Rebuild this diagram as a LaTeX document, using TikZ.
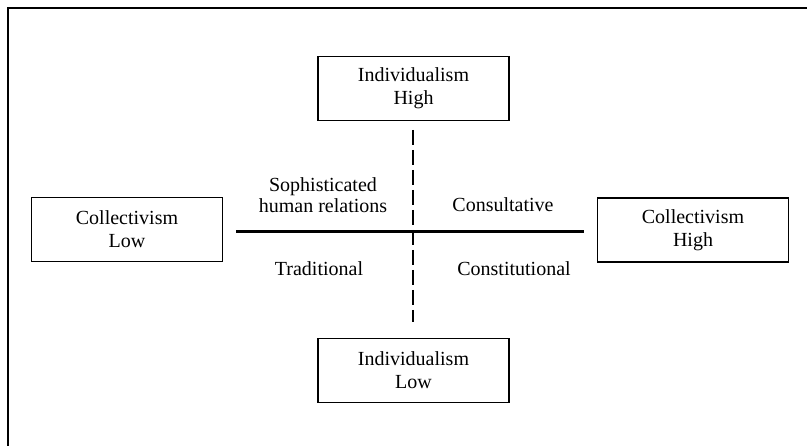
\documentclass[tikz,border=0pt]{standalone}
\usepackage{fontspec}
\setmainfont{Liberation Serif}
\begin{document}
\begin{tikzpicture}[x=1pt,y=-1pt,
  dimbox/.style={draw, line width=1.5pt, minimum width=191pt, minimum height=64pt,
    align=center, inner sep=0pt, font=\fontsize{20}{23}\selectfont},
  quadlabel/.style={align=center, inner sep=0pt, font=\fontsize{20}{21}\selectfont},
  frameline/.style={line width=1.5pt},
  axis/.style={line width=3pt},
  splitaxis/.style={line width=1.9pt, dash pattern=on 15pt off 5pt}]
  \useasboundingbox (0,0) rectangle (807,446);

  % open frame: top and left edges only
  \draw[frameline] (807,8) -- (8,8) -- (8,446);

  % dimension boxes
  \node[dimbox] (indhigh) at (413.5,88.5) {Individualism\\High};
  \node[dimbox] (indlow)  at (413.5,370.5) {Individualism\\Low};
  \node[dimbox] (collow)  at (127,229.5) {Collectivism\\Low};
  \node[dimbox] (colhigh) at (693,230) {Collectivism\\High};

  % axes
  \coordinate (hl) at (236,232);
  \coordinate (hr) at (584,232);
  \coordinate (vt) at (413,130);
  \coordinate (vb) at (413,322);
  \draw[axis] (hl) -- (hr);
  \draw[splitaxis] (vt) -- (vb);

  % quadrant labels
  \node[quadlabel] (soph)  at (323,195) {Sophisticated\\human relations};
  \node[quadlabel] (cons)  at (503,205) {Consultative};
  \node[quadlabel] (trad)  at (319,269) {Traditional};
  \node[quadlabel] (const) at (514,269) {Constitutional};
\end{tikzpicture}
\end{document}
